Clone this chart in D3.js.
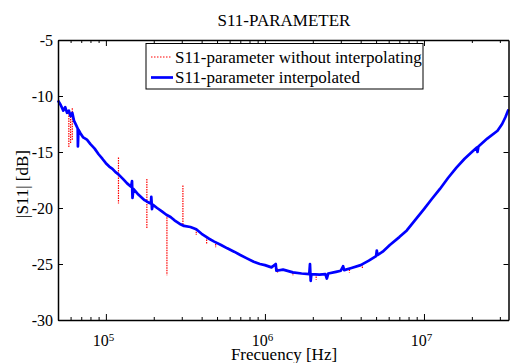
<!DOCTYPE html>
<html><head><meta charset="utf-8">
<script src="https://cdn.jsdelivr.net/npm/d3@7"></script>
<style>
html,body{margin:0;padding:0;background:#fff;}
text{font-family:"Liberation Serif","Times New Roman",serif;fill:#000;}
</style></head>
<body>
<svg id="chart" width="510" height="363"></svg>
<script>
// ---- data ----
const freqBlue = [5.0e4,5.2e4,5.4e4,5.55e4,5.7e4,5.85e4,6.0e4,6.15e4,6.3e4,6.5e4,6.65e4,6.67e4,6.72e4,6.9e4,7.2e4,7.6e4,8.0e4,8.5e4,9.0e4,9.5e4,
  1.0e5,1.05e5,1.1e5,1.15e5,1.2e5,1.28e5,1.36e5,1.44e5,1.46e5,1.47e5,1.49e5,1.6e5,1.75e5,1.85e5,1.92e5,1.93e5,1.95e5,1.97e5,2.1e5,2.25e5,
  2.4e5,2.55e5,2.7e5,2.9e5,3.1e5,3.4e5,3.7e5,4.0e5,4.4e5,4.8e5,5.3e5,5.8e5,6.4e5,7.0e5,7.7e5,8.5e5,9.3e5,
  1.0e6,1.1e6,1.17e6,1.18e6,1.3e6,1.5e6,1.7e6,1.9e6,1.92e6,1.94e6,1.96e6,2.2e6,2.4e6,2.45e6,2.5e6,2.8e6,3.0e6,3.1e6,3.15e6,3.5e6,
  4.0e6,4.5e6,5.0e6,5.05e6,5.1e6,5.5e6,6.1e6,7.0e6,7.8e6,9.0e6,1.0e7,1.12e7,1.26e7,1.42e7,1.6e7,1.8e7,2.0e7,2.15e7,2.17e7,2.2e7,
  2.5e7,2.9e7,3.1e7,3.25e7,3.4e7];
const dbBlue = [-10.4,-10.8,-11.3,-11.0,-11.5,-11.3,-11.8,-11.5,-12.2,-12.6,-12.9,-14.5,-13.0,-13.3,-13.7,-13.9,-14.3,-14.7,-15.2,-15.6,
  -16.0,-16.3,-16.5,-16.8,-17.0,-17.4,-17.8,-18.1,-17.6,-19.1,-18.3,-18.8,-19.3,-19.5,-19.6,-19.0,-20.1,-19.7,-20.0,-20.3,
  -20.6,-20.8,-21.1,-21.4,-21.6,-21.7,-21.9,-22.3,-22.7,-23.0,-23.3,-23.6,-23.9,-24.2,-24.5,-24.8,-25.0,
  -25.1,-25.3,-25.0,-25.6,-25.5,-25.75,-25.85,-25.9,-25.0,-26.5,-25.9,-25.95,-25.9,-26.3,-25.85,-25.7,-25.6,-25.2,-25.55,-25.35,
  -25.1,-24.7,-24.3,-23.8,-24.2,-23.9,-23.3,-22.6,-22.0,-20.9,-20.1,-19.2,-18.3,-17.3,-16.4,-15.6,-15.0,-14.6,-15.0,-14.5,
  -13.8,-13.1,-12.5,-11.9,-11.2];
// red series = same trace plus the non-interpolated spikes
const spikeFreq = [5.85e4,6.0e4,6.15e4,1.2e5,1.81e5,2.42e5,3.05e5,3.7e5,4.3e5,4.9e5,1.2e6,1.5e6,2.1e6,3.4e6,4.1e6];
const spikeHi   = [-11.3,-11.6,-11.1,-15.5,-17.4,-20.6,-18.0,-21.9,-22.6,-23.0,-25.4,-25.8,-25.9,-25.5,-25.0];
const spikeLo   = [-14.6,-14.2,-13.9,-19.6,-21.8,-26.0,-21.5,-22.4,-23.2,-23.5,-25.75,-26.05,-26.4,-25.75,-25.45];
const yTicks = [-30,-25,-20,-15,-10,-5];
const xMajor = [1e5,1e6,1e7];
const xMajorExp = ["5","6","7"];
const xMinor = [6e4,7e4,8e4,9e4,2e5,3e5,4e5,5e5,6e5,7e5,8e5,9e5,2e6,3e6,4e6,5e6,6e6,7e6,8e6,9e6,2e7,3e7];
const seriesNames = ["S11-parameter without interpolating","S11-parameter interpolated"];

// ---- layout ----
const L = 58, R = 508.5, T = 40, B = 320;
const svg = d3.select("#chart");
const x = d3.scaleLog().domain([5e4, 3.4e7]).range([L, R]);
const y = d3.scaleLinear().domain([-30, -5]).range([B, T]);

// title
svg.append("text").attr("x", 284).attr("y", 26).attr("text-anchor","middle")
  .style("font-size","17px").text("S11-PARAMETER");

// data lines
const red = "#ff0000", blue = "#0000ff";
const g = svg.append("g");
const line = d3.line().x(d => x(d[0])).y(d => y(d[1]));
const bluePts = freqBlue.map((f,i) => [f, dbBlue[i]]);
g.append("path").attr("d", line(bluePts)).attr("fill","none")
  .attr("stroke", red).attr("stroke-width",1).attr("stroke-dasharray","1.5,1.5");
g.selectAll("line.spike").data(spikeFreq).join("line").attr("class","spike")
  .attr("x1", d => x(d)).attr("x2", d => x(d))
  .attr("y1", (d,i) => y(spikeHi[i])).attr("y2", (d,i) => y(spikeLo[i]))
  .attr("stroke", red).attr("stroke-width",1.2).attr("stroke-dasharray","1.5,1");
g.append("path").attr("d", line(bluePts)).attr("fill","none")
  .attr("stroke", blue).attr("stroke-width",2.7).attr("stroke-linejoin","round");

// axes
function styleAxis(sel){
  sel.selectAll("path").attr("stroke","#000").attr("stroke-width",1.5);
  sel.selectAll("line").attr("stroke","#000").attr("stroke-width",1);
  sel.selectAll("text").style("font-size","16px").attr("fill","#000");
}
// left
svg.append("g").attr("transform",`translate(${L},0)`)
  .call(d3.axisLeft(y).tickValues(yTicks).tickSizeInner(-5).tickSizeOuter(0).tickPadding(5).tickFormat(d => d))
  .call(styleAxis).call(s => s.selectAll("text").attr("dy","0.35em"));
// right
svg.append("g").attr("transform",`translate(${R},0)`)
  .call(d3.axisRight(y).tickValues(yTicks).tickSizeInner(-5).tickSizeOuter(0).tickFormat(""))
  .call(styleAxis);
// bottom major
const bottom = svg.append("g").attr("transform",`translate(0,${B})`)
  .call(d3.axisBottom(x).tickValues(xMajor).tickSizeInner(-6).tickSizeOuter(0).tickPadding(15).tickFormat(() => "10"))
  .call(styleAxis);
bottom.selectAll(".tick text").attr("dy","0.71em").attr("dx","-3")
  .each(function(d,i){
    d3.select(this).append("tspan").attr("dy","-0.5em").style("font-size","11px").text(xMajorExp[i]);
  });
svg.append("g").attr("transform",`translate(0,${B})`)
  .call(d3.axisBottom(x).tickValues(xMinor).tickSizeInner(-3).tickSizeOuter(0).tickFormat(""))
  .call(styleAxis).call(s => s.select("path").remove());
// top
svg.append("g").attr("transform",`translate(0,${T})`)
  .call(d3.axisTop(x).tickValues(xMajor).tickSizeInner(-6).tickSizeOuter(0).tickFormat(""))
  .call(styleAxis);
svg.append("g").attr("transform",`translate(0,${T})`)
  .call(d3.axisTop(x).tickValues(xMinor).tickSizeInner(-3).tickSizeOuter(0).tickFormat(""))
  .call(styleAxis).call(s => s.select("path").remove());

// axis labels
svg.append("text").attr("x", 284).attr("y", 359.5).attr("text-anchor","middle")
  .style("font-size","17px").text("Frecuency [Hz]");
svg.append("text").attr("transform","translate(27.5,184) rotate(-90)").attr("text-anchor","middle")
  .style("font-size","17px").text("|S11| [dB]");

// legend
const lg = svg.append("g");
lg.append("rect").attr("x",146).attr("y",43.5).attr("width",277).attr("height",45.5)
  .attr("fill","#fff").attr("stroke","#000").attr("stroke-width",1);
const lgY = [57, 77.5];
lg.append("line").attr("x1",151).attr("x2",172).attr("y1",lgY[0]).attr("y2",lgY[0])
  .attr("stroke",red).attr("stroke-width",1).attr("stroke-dasharray","1.5,1.5");
lg.append("line").attr("x1",151).attr("x2",173).attr("y1",lgY[1]).attr("y2",lgY[1])
  .attr("stroke",blue).attr("stroke-width",2.7);
seriesNames.forEach((n,i) => {
  lg.append("text").attr("x",175).attr("y",lgY[i]).attr("dy","0.35em")
    .style("font-size","17px").text(n);
});
</script>
</body></html>
